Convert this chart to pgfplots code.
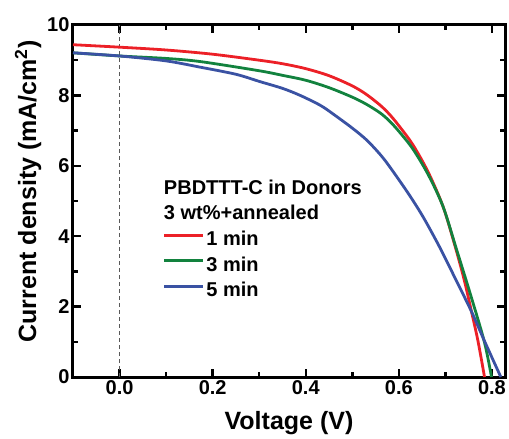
\documentclass[border=0pt]{standalone}
\usepackage{pgfplots}
\pgfplotsset{compat=1.18}
\usepackage{fontspec}
\setmainfont{Liberation Sans}
\definecolor{cred}{RGB}{236,32,39}
\definecolor{cgreen}{RGB}{18,130,62}
\definecolor{cblue}{RGB}{58,82,163}
\begin{document}
\begin{tikzpicture}
\begin{axis}[
  scale only axis, width=432pt, height=352pt,
  xmin=-0.1, xmax=0.828, ymin=0, ymax=10,
  xtick={0,0.2,0.4,0.6,0.8}, ytick={0,2,4,6,8,10},
  minor x tick num=1, minor y tick num=1,
  tick align=inside,
  major tick length=8pt, minor tick length=5pt,
  every tick/.style={black, line width=2.4pt},
  axis line style={line width=3pt},
  xticklabel style={/pgf/number format/.cd, fixed, fixed zerofill, precision=1},
  /pgf/number format/assume math mode=true,
  tick label style={font=\bfseries\fontsize{20}{24}\selectfont},
  label style={font=\bfseries\fontsize{25}{30}\selectfont},
  xlabel={Voltage (V)},
  ylabel={Current density (mA/cm$^{\mathbf{2}}$)},
  xlabel style={at={(axis description cs:0.5,-0.13)}, anchor=center},
  ylabel style={at={(axis description cs:-0.104,0.527)}, anchor=center, rotate=0},
  legend style={draw=none, fill=none, inner sep=0pt, at={(axis cs:0.093,4.16)}, anchor=north west,
    font=\bfseries\fontsize{20}{24}\selectfont, row sep=6.5pt,
    nodes={inner ysep=0pt, inner xsep=1.5pt, text height=15pt, text depth=4pt}},
  legend cell align=left,
  legend image code/.code={\draw[#1] (0pt,5pt) -- (39pt,5pt);},
]
\addplot[gray!70!black, line width=0.8pt, dash pattern=on 4pt off 3pt, forget plot] coordinates {(0,0) (0,10)};
\addplot[cred, line width=2.8pt, smooth, tension=0.5] coordinates {
(-0.1,9.44) (0,9.37) (0.1,9.29) (0.2,9.17) (0.3,9.0) (0.35,8.9) (0.4,8.76) (0.45,8.56)
(0.5,8.27) (0.53,8.03) (0.56,7.72) (0.58,7.46) (0.6,7.14) (0.63,6.6) (0.663,5.82)
(0.695,4.84) (0.72,3.75) (0.74,2.78) (0.756,1.86) (0.77,1.02) (0.784,0)};
\addlegendentry{1 min}
\addplot[cgreen, line width=2.8pt, smooth, tension=0.5] coordinates {
(-0.1,9.21) (0,9.12) (0.1,9.05) (0.174,8.96) (0.3,8.7) (0.35,8.57) (0.4,8.43) (0.45,8.22)
(0.5,7.95) (0.53,7.75) (0.56,7.5) (0.58,7.27) (0.6,6.98) (0.63,6.48)
(0.663,5.75) (0.695,4.84) (0.724,3.62) (0.756,2.25) (0.784,0.98) (0.799,0)};
\addlegendentry{3 min}
\addplot[cblue, line width=2.8pt, smooth, tension=0.5] coordinates {
(-0.1,9.21) (0,9.12) (0.1,8.98) (0.174,8.80) (0.25,8.6) (0.302,8.39) (0.35,8.2) (0.388,8.0)
(0.431,7.72) (0.459,7.47) (0.5,7.07) (0.531,6.73) (0.56,6.32) (0.581,5.96) (0.62,5.22)
(0.652,4.55) (0.688,3.68) (0.72,2.83) (0.756,1.86) (0.784,1.02) (0.819,0)};
\addlegendentry{5 min}
\node[anchor=west, inner sep=0pt, font=\bfseries\fontsize{20}{24}\selectfont] at (axis cs:0.095,5.40) {PBDTTT-C in Donors};
\node[anchor=west, inner sep=0pt, font=\bfseries\fontsize{20}{24}\selectfont] at (axis cs:0.095,4.69) {3 wt\%+annealed};
\end{axis}
\pgfresetboundingbox
\path ([shift={(-73pt,-62pt)}]current axis.south west) rectangle ([shift={(4pt,25pt)}]current axis.north east);
\end{tikzpicture}
\end{document}
